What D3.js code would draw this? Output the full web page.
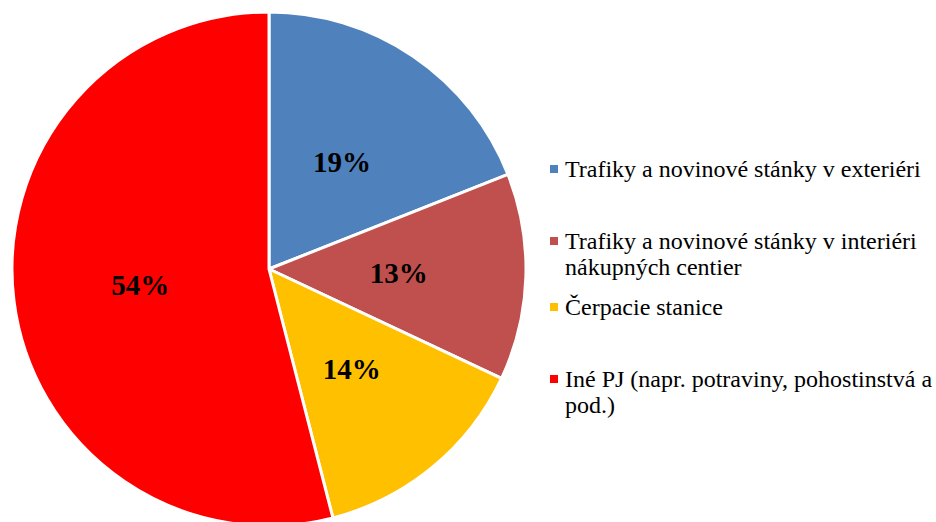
<!DOCTYPE html>
<html><head><meta charset="utf-8">
<script src="https://cdn.jsdelivr.net/npm/d3@7"></script>
<style>body{margin:0;background:#fff}</style>
</head><body>
<svg id="c" width="936" height="522"></svg>
<script>
const categories = ["Trafiky a novinové stánky v exteriéri", "Trafiky a novinové stánky v interiéri nákupných centier", "Čerpacie stanice", "Iné PJ (napr. potraviny, pohostinstvá a pod.)"];
const legendLines = [["Trafiky a novinové stánky v exteriéri"], ["Trafiky a novinové stánky v interiéri", "nákupných centier"], ["Čerpacie stanice"], ["Iné PJ (napr. potraviny, pohostinstvá a", "pod.)"]];
const values = [19, 13, 14, 54];
const colors = ["#4F81BD", "#C0504D", "#FFC000", "#FF0000"];

const svg = d3.select("#c");
const cx = 269, cy = 269, r = 257;
const pie = d3.pie().sort(null).value(d => d)(values);
const arc = d3.arc().innerRadius(0).outerRadius(r);
const g = svg.append("g").attr("transform", `translate(${cx},${cy})`);
g.selectAll("path").data(pie).join("path")
  .attr("d", arc).attr("fill", (d, i) => colors[i])
  .attr("stroke", "#fff").attr("stroke-width", 3).attr("stroke-linejoin", "round");
const labelArc = d3.arc().innerRadius(r * 0.505).outerRadius(r * 0.505);
g.selectAll("text").data(pie).join("text")
  .attr("transform", d => `translate(${labelArc.centroid(d)})`)
  .attr("text-anchor", "middle").attr("dy", "0.35em")
  .style("font-family", "'Liberation Serif', 'Times New Roman', serif").style("font-weight", "bold").style("font-size", "29px")
  .text(d => d.data + "%");

const legY = [169, 241, 307, 379];
const lg = svg.append("g");
legendLines.forEach((lines, i) => {
  lg.append("rect").attr("x", 550).attr("y", legY[i] - 4).attr("width", 8).attr("height", 8).attr("fill", colors[i]);
  lines.forEach((t, j) => {
    lg.append("text").attr("x", 565).attr("y", legY[i] + j * 26).attr("dy", "0.33em")
      .style("font-family", "'Liberation Serif', 'Times New Roman', serif").style("font-size", "24px").attr("fill", "#000").text(t);
  });
});
</script>
</body></html>
